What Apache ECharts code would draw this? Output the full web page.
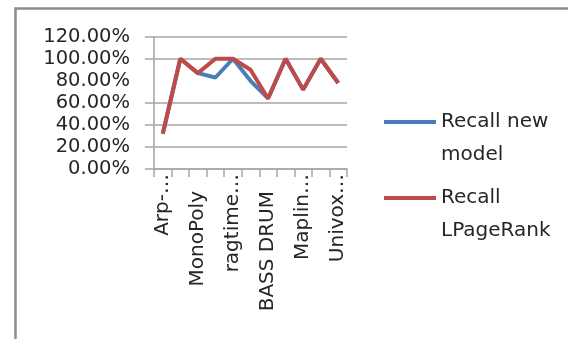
<!DOCTYPE html>
<html>
<head>
<meta charset="utf-8">
<script src="https://cdn.jsdelivr.net/npm/echarts@6/dist/echarts.min.js"></script>
<style>
html,body{margin:0;padding:0;background:#fff;}
#c{width:568px;height:339px;}
</style>
</head>
<body>
<div id="c"></div>
<script>
var categories = ['Arp-…','Moog…','MonoPoly','Korg…','ragtime…','Roland…','BASS DRUM','Casio…','Maplin…','Yamaha…','Univox…'];
var recallNewModel = [32, 100, 87, 83, 100, 80, 64, 100, 72, 100, 78];
var recallLPageRank = [32, 100, 87, 100, 100, 90, 64, 100, 72, 100, 78];
var yTicks = [0, 20, 40, 60, 80, 100, 120];
var yGridShown = [0, 20, 40, 60, 100, 120];
var seriesNames = ['Recall new model', 'Recall LPageRank'];
var legendLabels = {'Recall new model': 'Recall new\nmodel', 'Recall LPageRank': 'Recall\nLPageRank'};

var chart = echarts.init(document.getElementById('c'), null, {renderer: 'canvas'});
var gridColor = '#a6a6a6';
var textColor = '#262626';
var font = 'DejaVu Sans';
chart.setOption({
  animation: false,
  backgroundColor: '#fff',
  graphic: [{
    type: 'rect',
    shape: {x: 15.5, y: 8.5, width: 600, height: 400},
    style: {fill: 'none', stroke: '#8c8c8c', lineWidth: 2.5},
    silent: true
  }],
  grid: {left: 154, right: 221, top: 36.7, bottom: 170},
  legend: {
    orient: 'vertical',
    left: 379,
    top: 67.5,
    itemWidth: 52,
    itemHeight: 4,
    itemGap: -23,
    icon: 'rect',
    data: seriesNames,
    formatter: function (n) { return ' \n' + legendLabels[n]; },
    textStyle: {fontFamily: font, fontSize: 20, color: textColor, lineHeight: 33}
  },
  xAxis: {
    type: 'category',
    data: categories,
    boundaryGap: true,
    axisLine: {lineStyle: {color: gridColor, width: 1.5}},
    axisTick: {show: true, interval: 0, length: 8, lineStyle: {color: gridColor, width: 1.5}},
    axisLabel: {
      interval: 1, rotate: 90, margin: 5, fontFamily: font, fontSize: 20, color: textColor,
      formatter: function (v) { return v.slice(-1) === '…' ? '{t|' + v + '}' : '{f|' + v + '}'; },
      rich: {
        t: {fontFamily: font, fontSize: 20, color: textColor},
        f: {fontFamily: font, fontSize: 20, color: textColor, padding: [0, 17, 0, 0]}
      }
    }
  },
  yAxis: {
    type: 'value',
    min: 0, max: 120, interval: 20,
    axisLine: {show: true, lineStyle: {color: gridColor, width: 1.5}},
    axisTick: {show: true, length: 9, customValues: yGridShown, lineStyle: {color: gridColor, width: 1.5}},
    splitLine: {show: false},
    axisLabel: {margin: 24, fontFamily: font, fontSize: 19.5, color: textColor,
      formatter: function (v) { return v.toFixed(2) + '%'; }}
  },
  series: [
    {name: seriesNames[0], type: 'line', data: recallNewModel, symbol: 'none',
      lineStyle: {color: '#4a7ebb', width: 4}, itemStyle: {color: '#4a7ebb'}, z: 2,
      markLine: {
        silent: true, symbol: 'none', label: {show: false}, z: 1,
        lineStyle: {color: gridColor, width: 1.5, type: 'solid'},
        emphasis: {disabled: true},
        data: yGridShown.map(function (v) { return {yAxis: v}; })
      }},
    {name: seriesNames[1], type: 'line', data: recallLPageRank, symbol: 'none',
      lineStyle: {color: '#be4b48', width: 4}, itemStyle: {color: '#be4b48'}, z: 3}
  ]
});
</script>
</body>
</html>
